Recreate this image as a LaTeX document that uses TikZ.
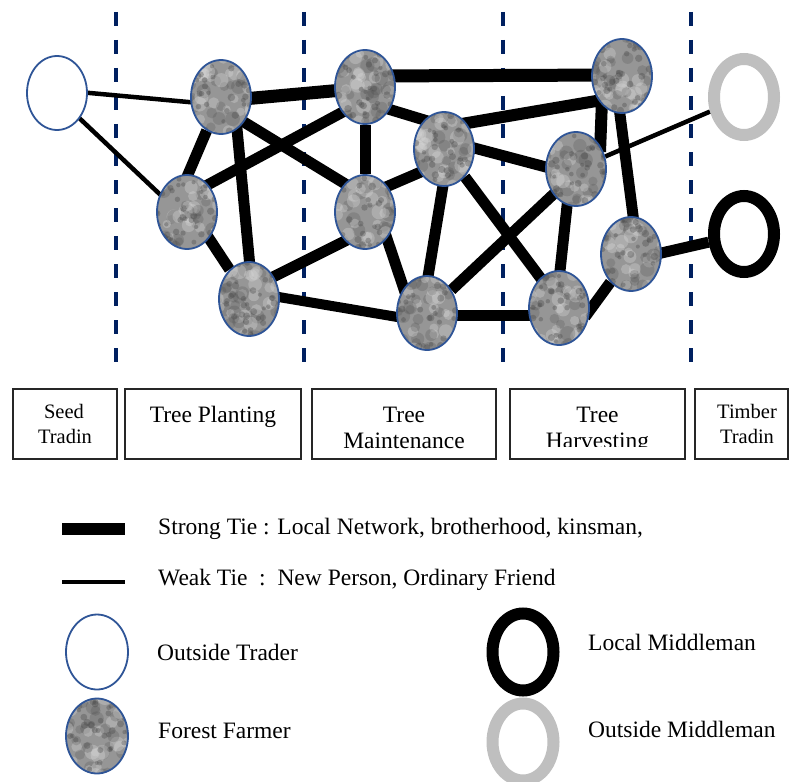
\documentclass[tikz,border=0pt]{standalone}
\usepackage{fontspec}
\setmainfont{Liberation Serif}
\usetikzlibrary{shapes.geometric,calc}
\pgfdeclarelayer{background}
\pgfsetlayers{background,main}

\definecolor{nodeblue}{RGB}{47,85,151}
\definecolor{navy}{RGB}{0,32,96}
\definecolor{ringgray}{RGB}{191,191,191}
\definecolor{granite}{RGB}{150,150,150}
\definecolor{spotdark}{RGB}{70,70,70}
\definecolor{spotlight}{RGB}{215,215,215}

% mottled stone texture for the farmer discs
\newcommand{\granitespots}{%
  \foreach \k in {1,...,55}{%
    \pgfmathsetmacro{\gx}{rand*34}%
    \pgfmathsetmacro{\gy}{rand*41}%
    \pgfmathsetmacro{\gr}{4+3.5*rnd}%
    \pgfmathtruncatemacro{\gk}{random(0,1)}%
    \ifnum\gk=0
      \fill[spotdark, opacity=0.22] ($(path picture bounding box.center)+(\gx,\gy)$) circle (\gr);
    \else
      \fill[spotlight, opacity=0.35] ($(path picture bounding box.center)+(\gx,\gy)$) circle (\gr);
    \fi
  }%
  \foreach \k in {1,...,45}{%
    \pgfmathsetmacro{\gx}{rand*34}%
    \pgfmathsetmacro{\gy}{rand*41}%
    \pgfmathsetmacro{\gr}{2+1.8*rnd}%
    \fill[spotdark, opacity=0.35] ($(path picture bounding box.center)+(\gx,\gy)$) circle (\gr);
  }%
}

\tikzset{
  farmer/.style={ellipse, draw=nodeblue, line width=1.8pt, fill=granite,
    minimum width=60pt, minimum height=74pt, inner sep=0pt,
    path picture={\granitespots}},
  trader/.style={ellipse, draw=nodeblue, line width=1.8pt, fill=white,
    minimum width=60pt, minimum height=74pt, inner sep=0pt},
  ring/.style={ellipse, line width=12pt, fill=white,
    minimum width=60pt, minimum height=76pt, inner sep=0pt},
  strongtie/.style={line width=11pt},
  heavytie/.style={line width=13pt},
  weaktie/.style={line width=4.5pt},
  stagesep/.style={draw=navy, line width=3.5pt, dash pattern=on 14pt off 14pt},
  stage/.style={rectangle, draw=black!85, line width=1.2pt, minimum height=70pt, inner sep=0pt},
  bigtxt/.style={inner sep=0pt, anchor=base, font=\fontsize{23.5}{26}\selectfont},
  smalltxt/.style={inner sep=0pt, anchor=base, font=\fontsize{20.5}{24}\selectfont},
  keytxt/.style={inner sep=0pt, anchor=base west, font=\fontsize{23.5}{26}\selectfont},
}

\begin{document}
\begin{tikzpicture}[x=1pt, y=-1pt]
\pgfmathsetseed{42}
\useasboundingbox (0,0) rectangle (789,781);

% ---- actors of the value chain ----
\node[trader] (ot) at (57,93) {};
\node[farmer] (f1) at (221,97) {};
\node[farmer] (f2) at (187,212) {};
\node[farmer] (f3) at (249,299) {};
\node[farmer] (f4) at (365,87) {};
\node[farmer] (f5) at (365,212) {};
\node[farmer] (f6) at (427,313) {};
\node[farmer] (f7) at (444,149) {};
\node[farmer] (f8) at (622,76) {};
\node[farmer] (f9) at (576,169) {};
\node[farmer] (f10) at (631,254) {};
\node[farmer] (f11) at (559,308) {};
\node[ring, draw=ringgray] (om) at (744,97) {};
\node[ring, draw=black] (lm) at (744,234) {};

\begin{pgfonlayer}{background}
  % stage separators
  \foreach \sx in {116,304,503,691}
    \draw[stagesep] (\sx,12) -- (\sx,362);
  % weak ties
  \draw[weaktie] ($(ot)+(0,-3)$) -- ($(f1)+(0,8)$);
  \draw[weaktie] ($(ot)+(0,4)$) -- ($(f2)+(0,8)$);
  \draw[weaktie] (f9) -- (om);
  % strong ties
  \draw[strongtie] (f1) -- ($(f2)+(-15,0)$);
  \draw[strongtie] ($(f1)+(13,0)$) -- ($(f3)+(4,0)$);
  \draw[heavytie] ($(f1)+(0,4)$) -- ($(f4)+(0,1)$);
  \draw[strongtie] ($(f1)+(0,11)$) -- ($(f5)+(0,-16)$);
  \draw[strongtie] ($(f2)+(0,-16)$) -- ($(f4)+(0,13)$);
  \draw[strongtie] ($(f2)+(0,-7)$) -- (f3);
  \draw[strongtie] ($(f3)+(0,-10)$) -- ($(f5)+(0,19)$);
  \draw[line width=10pt] ($(f3)+(0,-7)$) -- ($(f6)+(0,9)$);
  \draw[strongtie] (f4) -- (f5);
  \draw[strongtie] ($(f4)+(0,15)$) -- ($(f7)+(0,-23)$);
  \draw[heavytie] ($(f4)+(0,-11)$) -- ($(f8)+(0,-1)$);
  \draw[strongtie] ($(f5)+(0,-16)$) -- ($(f7)+(0,13)$);
  \draw[strongtie] ($(f5)+(13,0)$) -- ($(f6)+(-15,0)$);
  \draw[strongtie] ($(f7)+(5,0)$) -- ($(f6)+(-5,0)$);
  \draw[line width=12pt] ($(f7)+(0,-22)$) -- ($(f8)+(-20,24)$) -- ($(f9)+(24,-17)$);
  \draw[strongtie] ($(f7)+(0,-9)$) -- ($(f9)+(0,6)$);
  \draw[strongtie] (f6) -- ($(f9)+(0,4)$);
  \draw[strongtie] (f7) -- ($(f11)+(4,0)$);
  \draw[strongtie] ($(f9)+(-5,0)$) -- ($(f11)+(-3,0)$);
  \draw[strongtie] ($(f8)+(-7,0)$) -- ($(f10)+(7,0)$);
  \draw[strongtie] ($(f6)+(0,2)$) -- ($(f11)+(0,7)$);
  \draw[strongtie] (f10) -- ($(f11)+(26,9)$);
  \draw[strongtie] ($(f10)+(0,6)$) -- (lm);
\end{pgfonlayer}

% ---- stages of the chain ----
\node[stage, minimum width=104pt] (b1) at (65,424) {};
\node[stage, minimum width=176pt] (b2) at (213,424) {};
\node[stage, minimum width=184pt] (b3) at (404,424) {};
\node[stage, minimum width=175pt] (b4) at (597.5,424) {};
\node[stage, minimum width=93pt] (b5) at (741.5,424) {};

\node[smalltxt] (b1a) at (64,418) {Seed};
\node[smalltxt] (b1b) at (65,443) {Tradin};
\node[bigtxt] (b2a) at (213,422) {Tree Planting};
\node[bigtxt] (b3a) at (404,422) {Tree};
\node[bigtxt] (b3b) at (404,448) {Maintenance};
\node[bigtxt] (b4a) at (597.5,422) {Tree};
\begin{scope}
  \clip (505,430) rectangle (690,446.5);
  \node[bigtxt] (b4b) at (597.5,448.5) {Harvesting};
\end{scope}
\node[smalltxt] (b5a) at (747,418) {Timber};
\node[smalltxt] (b5b) at (747,443) {Tradin};

% ---- key ----
\coordinate (ks1) at (62,529);
\coordinate (ks2) at (125,529);
\draw[line width=12pt] (ks1) -- (ks2);
\coordinate (kw1) at (62,582);
\coordinate (kw2) at (125,582);
\draw[weaktie] (kw1) -- (kw2);
\node[keytxt] (kst) at (158,534) {Strong Tie : Local Network, brotherhood, kinsman,};
\node[keytxt] (kwt) at (158,585) {Weak Tie\ \ :\ \ New Person, Ordinary Friend};

\node[trader, minimum width=62pt, minimum height=75pt] (kot) at (97,652) {};
\node[farmer, minimum width=62pt, minimum height=75pt] (kff) at (97,736) {};
\node[ring, draw=black, minimum width=61pt, minimum height=77pt] (klm) at (523,652) {};
\node[ring, draw=ringgray, minimum width=61pt, minimum height=77pt] (kom) at (523,742) {};

\node[keytxt] (kott) at (157,660) {Outside Trader};
\node[keytxt] (kfft) at (158,738) {Forest Farmer};
\node[keytxt] (klmt) at (588,650) {Local Middleman};
\node[keytxt] (komt) at (588,737) {Outside Middleman};
\end{tikzpicture}
\end{document}
